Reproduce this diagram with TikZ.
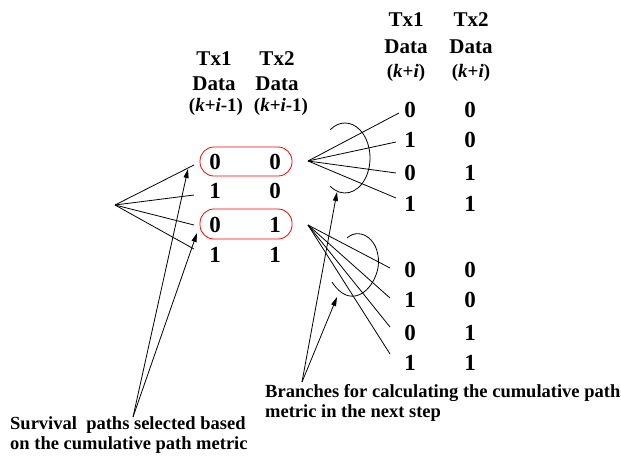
\documentclass[tikz,border=0pt]{standalone}
\usepackage{fontspec}
\setmainfont{Liberation Serif}
\usetikzlibrary{arrows.meta}
\begin{document}
\begin{tikzpicture}[x=1pt,y=-1pt,
  digit/.style={font=\fontsize{23}{23}\selectfont\bfseries, inner sep=0pt},
  head/.style={font=\fontsize{21}{21}\selectfont\bfseries, inner sep=0pt},
  idx/.style={font=\fontsize{19}{19}\selectfont\bfseries, inner sep=0pt},
  note/.style={font=\fontsize{18.5}{20}\selectfont\bfseries, inner sep=0pt, align=left},
  surv/.style={draw=red, rounded corners=14pt, line width=0.8pt},
  fan/.style={line width=0.8pt},
  arr/.style={line width=0.8pt, -{Triangle[length=9pt,width=5pt]}},
  every node/.style={text=black}]
\useasboundingbox (0,0) rectangle (621,458);
% left headers
\node[head] (h1a) at (214,59) {Tx1};
\node[head] (h2a) at (277,59) {Tx2};
\node[head] (h1b) at (214,84) {Data};
\node[head] (h2b) at (277,84) {Data};
\node[idx] (h1c) at (216,107) {(\textit{k}+\textit{i}-1)};
\node[idx] (h2c) at (281,107) {(\textit{k}+\textit{i}-1)};
% right headers
\node[head] (g1a) at (406,20) {Tx1};
\node[head] (g2a) at (471,20) {Tx2};
\node[head] (g1b) at (406,47) {Data};
\node[head] (g2b) at (471,47) {Data};
\node[idx] (g1c) at (406,73) {(\textit{k}+\textit{i})};
\node[idx] (g2c) at (471,73) {(\textit{k}+\textit{i})};
% left digits
\node[digit] (l1a) at (215,162) {0}; \node[digit] (l1b) at (275,162) {0};
\node[digit] (l2a) at (215,191) {1}; \node[digit] (l2b) at (275,191) {0};
\node[digit] (l3a) at (215,225) {0}; \node[digit] (l3b) at (275,225) {1};
\node[digit] (l4a) at (215,255) {1}; \node[digit] (l4b) at (275,255) {1};
% survivor boxes
\draw[surv] (200,147) rectangle (292,176);
\draw[surv] (200,209) rectangle (292,239);
% right digits top
\node[digit] (r1a) at (410,110) {0}; \node[digit] (r1b) at (470,110) {0};
\node[digit] (r2a) at (410,140) {1}; \node[digit] (r2b) at (470,140) {0};
\node[digit] (r3a) at (410,173) {0}; \node[digit] (r3b) at (470,173) {1};
\node[digit] (r4a) at (410,204) {1}; \node[digit] (r4b) at (470,204) {1};
% right digits bottom
\node[digit] (s1a) at (410,270) {0}; \node[digit] (s1b) at (470,270) {0};
\node[digit] (s2a) at (410,300) {1}; \node[digit] (s2b) at (470,300) {0};
\node[digit] (s3a) at (410,333) {0}; \node[digit] (s3b) at (470,333) {1};
\node[digit] (s4a) at (410,363) {1}; \node[digit] (s4b) at (470,363) {1};
% fan coordinates
\coordinate (f0) at (115,205);
\coordinate (e1) at (194,165); \coordinate (e2) at (194,195);
\coordinate (e3) at (194,225); \coordinate (e4) at (194,249);
\coordinate (f1) at (308,161);
\coordinate (t1) at (399,113); \coordinate (t2) at (396,142);
\coordinate (t3) at (396,173); \coordinate (t4) at (396,198);
\coordinate (f2) at (308,225);
\coordinate (b1) at (390,268); \coordinate (b2) at (390,298);
\coordinate (b3) at (390,327); \coordinate (b4) at (390,354);
\foreach \e in {e1,e2,e3,e4} \draw[fan] (f0) -- (\e);
\foreach \e in {t1,t2,t3,t4} \draw[fan] (f1) -- (\e);
\foreach \e in {b1,b2,b3,b4} \draw[fan] (f2) -- (\e);
% arcs
\draw[fan] (345,158) ++(126:25 and 35) arc[start angle=126, end angle=-126, x radius=25, y radius=35];
\draw[fan] (347,238) .. controls (360,226) and (382,240) .. (378,268) .. controls (373,292) and (350,310) .. (332,282);
% notes
\node[note, anchor=north west] (n1) at (10,416) {Survival\ \ paths selected based\\on the cumulative path metric};
\node[note, anchor=north west] (n2) at (265,384) {Branches for calculating the cumulative path\\metric in the next step};
% arrows
\coordinate (a0) at (133,417);
\coordinate (ta) at (188,169);
\coordinate (tb) at (197,233);
\draw[arr] (a0) -- (ta);
\draw[arr] (a0) -- (tb);
\coordinate (c0) at (302,382);
\coordinate (tc) at (337,192);
\coordinate (td) at (337,297);
\draw[arr] (c0) -- (tc);
\draw[arr] (c0) -- (td);
\end{tikzpicture}
\end{document}
